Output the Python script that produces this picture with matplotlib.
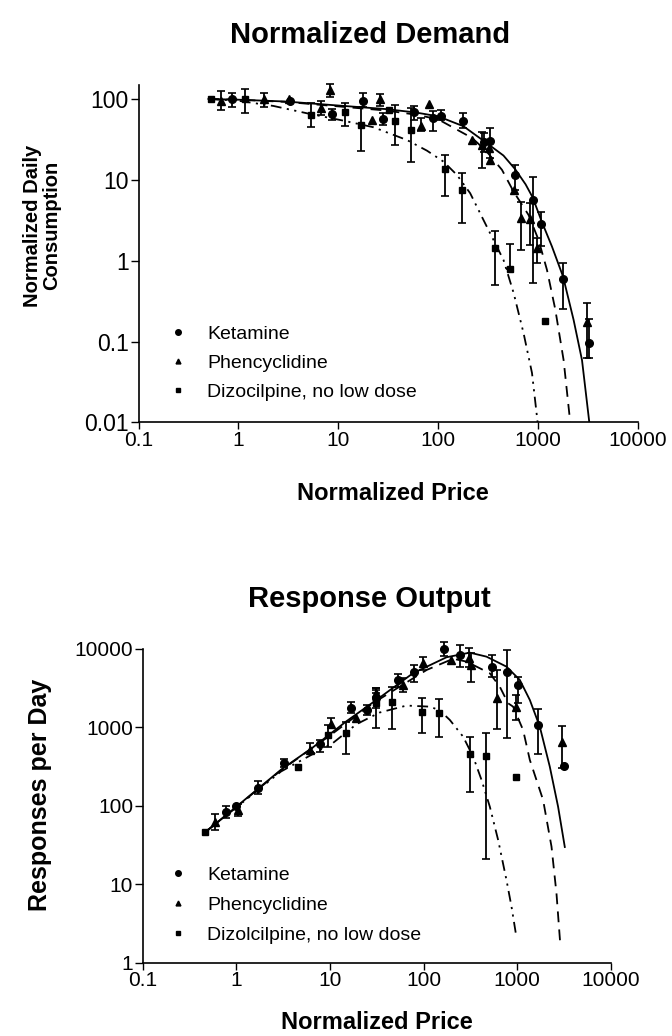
import numpy as np
import matplotlib
matplotlib.use('Agg')
import matplotlib.pyplot as plt
from matplotlib.lines import Line2D

plt.rcParams['font.family'] = ['Liberation Sans', 'DejaVu Sans']

nan = np.nan

# ---- Normalized Demand (top) ----
ket_x = [0.86, 3.27, 8.73, 17.7, 28.1, 57.5, 89.7, 107, 179, 289, 332, 582, 881, 1069, 1761, 3260]
ket_y = [100, 95, 65, 95, 56.6, 68.5, 57.7, 62.2, 54, 29.7, 30.5, 11.5, 5.64, 2.85, 0.6, 0.0955]
ket_lo = [80.3, nan, 55, 80, 47.7, 55, 40.6, 55, 43.4, 22, 18.5, 7.5, 0.53, 1.5, 0.25, 0.0626]
ket_hi = [119.6, nan, 74.6, 117.6, 66.5, 82, 71, 73, 66.5, 38, 44.2, 15.3, 10.9, 4.05, 0.95, 0.189]

pcp_x = [0.67, 1.79, 3.24, 6.72, 8.34, 21.7, 26.4, 67.6, 81.8, 218, 274, 319, 329, 569, 674, 822, 975, 3090]
pcp_y = [95, 100, 100, 76.7, 129, 55, 100, 46.4, 86, 31.1, 27, 24.6, 17.6, 7.5, 3.35, 3.26, 1.43, 0.177]
pcp_lo = [73, 80, nan, 63.4, 105, nan, 82, 40.6, nan, nan, 14.1, nan, nan, nan, 1.37, 1.57, 0.93, 0.0626]
pcp_hi = [126.6, 117.6, nan, 94.5, 153, nan, 115, 57.7, nan, nan, 39.4, nan, nan, nan, 5.4, 5.2, 1.9, 0.30]

diz_x = [0.53, 1.16, 5.34, 11.7, 17.0, 32.5, 37.3, 53.3, 117, 173, 373, 527, 1162]
diz_y = [100, 100, 64, 68.5, 47.7, 73, 54, 41.4, 13.5, 7.5, 1.43, 0.785, 0.18]
diz_lo = [nan, 66.5, 45.5, 46.3, 23, nan, 27, 16.8, 6.3, 2.95, 0.5, 0.785, nan]
diz_hi = [nan, 133, 88.5, 88.5, 80.3, nan, 84, 76.7, 20.3, 12.3, 2.3, 1.62, nan]

# fitted curves
ket_fit_x = [0.5, 1, 3, 10, 30, 60, 100, 179, 300, 450, 591, 750, 881, 1094, 1377, 1777, 2270, 2754, 3260]
ket_fit_y = [100, 98, 93, 83, 75, 68, 61, 46, 29, 20, 13.5, 8.8, 6.1, 3.0, 1.5, 0.64, 0.185, 0.059, 0.01]
pcp_fit_x = [0.5, 1, 3, 10, 30, 60, 100, 218, 300, 435, 569, 803, 1011, 1228, 1487, 1802, 2100]
pcp_fit_y = [100, 98, 92, 81, 72, 64, 56, 33, 23, 13.3, 7.15, 3.68, 1.81, 0.77, 0.25, 0.059, 0.01]
diz_fit_x = [0.5, 1, 2.24, 5, 11.2, 22.5, 48.6, 77, 113, 154, 209, 284, 451, 569, 716, 869, 990]
diz_fit_y = [100, 95, 82, 66, 54, 44.7, 31.1, 23, 16.8, 11.5, 6.83, 3.19, 1.02, 0.4, 0.127, 0.041, 0.01]

# ---- Response Output (bottom) ----
ket2_x = [0.77, 1.0, 1.7, 3.24, 7.8, 16.7, 24.6, 30.9, 53.5, 78.7, 166, 248, 537, 789, 1025, 1676, 3155]
ket2_y = [84, 100, 169, 356, 611, 1787, 1671, 2355, 4029, 5140, 10000, 8390, 5952, 5140, 3478, 1076, 323]
ket2_lo = [70, nan, 140, 316, 492, 1517, 1444, 1771, 3311, 3831, 8145, 5952, 4436, 728, 2034, 459, nan]
ket2_hi = [100, nan, 210, 394, 693, 2133, 1936, 3187, 4805, 6257, 12390, 11240, 8390, 9710, 4436, 1706, nan]

pcp2_x = [0.59, 1.05, 6.1, 10.2, 19.2, 30.9, 59.7, 99, 196, 305, 320, 611, 968, 3027]
pcp2_y = [62.5, 89, 516, 1109, 1310, 2727, 3478, 6570, 7243, 7605, 6257, 2355, 1841, 660]
pcp2_lo = [50, 75, 492, 1023, nan, 2727, 2860, 5400, nan, 5950, 3830, 952, 1246, 303]
pcp2_hi = [78, 105, 631, 1310, nan, 3160, 4235, 7970, nan, 10200, 8820, 5400, 2594, 1054]

diz2_x = [0.46, 4.57, 9.57, 14.7, 30.9, 45.5, 96.6, 147, 312, 460, 968]
diz2_y = [47, 317, 802, 843, 2034, 2133, 1590, 1517, 456, 438, 236]
diz2_lo = [nan, nan, 570, 456, 977, 948, 845, 763, 152, 21, nan]
diz2_hi = [nan, nan, 1076, 1185, 3006, 3311, 2355, 2290, 763, 843, nan]

ket2_fit_x = [0.46, 1, 3, 6.6, 15, 34, 77, 176, 312, 471, 770, 1069, 1368, 1749, 2236, 2742, 3236]
ket2_fit_y = [46, 98, 290, 560, 1200, 2400, 4900, 7836, 8975, 7980, 5952, 4029, 2240, 1023, 317, 98, 30]
pcp2_fit_x = [0.46, 1, 3, 10, 30, 108, 207, 288, 339, 511, 653, 801, 906, 1159, 1368, 1897, 2333, 2636, 2908]
pcp2_fit_y = [46, 97, 285, 790, 2100, 5400, 7500, 6900, 6257, 4900, 3311, 2034, 1841, 929, 386, 119, 30.3, 7.7, 1.61]
diz2_fit_x = [0.46, 1, 3, 10.7, 19.2, 34, 65.8, 117, 149, 191, 265, 339, 417, 511, 627, 770, 872, 968]
diz2_fit_y = [46, 96, 275, 631, 1100, 1550, 1900, 1840, 1650, 1246, 763, 425, 214, 98, 36.9, 11.4, 5.2, 2.4]

x_ticks = [0.1, 1, 10, 100, 1000, 10000]
x_labels = ['0.1', '1', '10', '100', '1000', '10000']
y1_ticks = [0.01, 0.1, 1, 10, 100]
y1_labels = ['0.01', '0.1', '1', '10', '100']
y2_ticks = [1, 10, 100, 1000, 10000]
y2_labels = ['1', '10', '100', '1000', '10000']

labels_top = ['Ketamine', 'Phencyclidine', 'Dizocilpine, no low dose']
labels_bot = ['Ketamine', 'Phencyclidine', 'Dizolcilpine, no low dose']

fig = plt.figure(figsize=(6.72, 10.36), dpi=100)
ax1 = fig.add_axes([0.2063, 0.5922, 0.743, 0.326])
ax2 = fig.add_axes([0.2126, 0.0705, 0.6961, 0.3031])

def draw_series(ax, x, y, lo, hi, marker, ms):
    x = np.array(x); y = np.array(y); lo = np.array(lo); hi = np.array(hi)
    m = ~np.isnan(lo)
    ax.errorbar(x[m], y[m], yerr=[y[m] - lo[m], hi[m] - y[m]], fmt='none',
                ecolor='black', elinewidth=1.3, capsize=3.2, capthick=1.2,
                clip_on=False, zorder=3)
    ax.plot(x, y, ls='none', marker=marker, ms=ms, color='black',
            clip_on=False, zorder=4)

def style_axis(ax, yt, yl, ysize):
    ax.set_xscale('log')
    ax.set_yscale('log')
    ax.spines['top'].set_visible(False)
    ax.spines['right'].set_visible(False)
    ax.spines['left'].set_linewidth(1.2)
    ax.spines['bottom'].set_linewidth(1.2)
    ax.set_xticks(x_ticks)
    ax.set_xticklabels(x_labels)
    ax.set_yticks(yt)
    ax.set_yticklabels(yl)
    ax.minorticks_off()
    ax.tick_params(axis='x', direction='out', length=5, width=1, labelsize=15, pad=1)
    ax.tick_params(axis='y', direction='out', length=6, width=1, labelsize=ysize, pad=1)

# top panel
ax1.plot(ket_fit_x, ket_fit_y, color='black', lw=1.3, ls='-')
ax1.plot(pcp_fit_x, pcp_fit_y, color='black', lw=1.3, ls=(0, (6, 4)))
ax1.plot(diz_fit_x, diz_fit_y, color='black', lw=1.3, ls=(0, (6, 3, 1.2, 3, 1.2, 3)))
draw_series(ax1, ket_x, ket_y, ket_lo, ket_hi, 'o', 5.5)
draw_series(ax1, pcp_x, pcp_y, pcp_lo, pcp_hi, '^', 5.5)
draw_series(ax1, diz_x, diz_y, diz_lo, diz_hi, 's', 5)
style_axis(ax1, y1_ticks, y1_labels, 16.5)
ax1.set_xlim(0.1, 10000)
ax1.set_ylim(0.01, 150)

# bottom panel
ax2.plot(ket2_fit_x, ket2_fit_y, color='black', lw=1.3, ls='-')
ax2.plot(pcp2_fit_x, pcp2_fit_y, color='black', lw=1.3, ls=(0, (6, 4)))
ax2.plot(diz2_fit_x, diz2_fit_y, color='black', lw=1.3, ls=(0, (6, 3, 1.2, 3, 1.2, 3)))
draw_series(ax2, ket2_x, ket2_y, ket2_lo, ket2_hi, 'o', 5.5)
draw_series(ax2, pcp2_x, pcp2_y, pcp2_lo, pcp2_hi, '^', 5.5)
draw_series(ax2, diz2_x, diz2_y, diz2_lo, diz2_hi, 's', 5)
style_axis(ax2, y2_ticks, y2_labels, 15)
ax2.set_xlim(0.1, 10000)
ax2.set_ylim(1, 10000)

# legends (markers only)
for ax, labels, anchor, sp in [(ax1, labels_top, (0.06, 0.288), 0.58),
                               (ax2, labels_bot, (0.055, 0.307), 0.63)]:
    handles = [Line2D([], [], ls='none', marker=mk, ms=ms, color='black')
               for mk, ms in [('o', 4), ('^', 3.5), ('s', 3.5)]]
    ax.legend(handles, labels, loc='upper left', bbox_to_anchor=anchor,
              frameon=False, fontsize=14, handlelength=1.0, handletextpad=1.0,
              labelspacing=sp, borderpad=0, borderaxespad=0)

# titles and axis labels
fig.text(0.55, 0.966, 'Normalized Demand', ha='center', va='center', fontsize=21, fontweight='bold')
fig.text(0.55, 0.422, 'Response Output', ha='center', va='center', fontsize=21, fontweight='bold')
fig.text(0.585, 0.524, 'Normalized Price', ha='center', va='center', fontsize=17, fontweight='bold')
fig.text(0.561, 0.0135, 'Normalized Price', ha='center', va='center', fontsize=17, fontweight='bold')
fig.text(0.0625, 0.782, 'Normalized Daily\nConsumption', ha='center', va='center', rotation=90,
         fontsize=14.5, fontweight='bold', linespacing=1.0)
fig.text(0.0595, 0.2326, 'Responses per Day', ha='center', va='center', rotation=90,
         fontsize=18, fontweight='bold')

fig.savefig('out.png', dpi=100)
